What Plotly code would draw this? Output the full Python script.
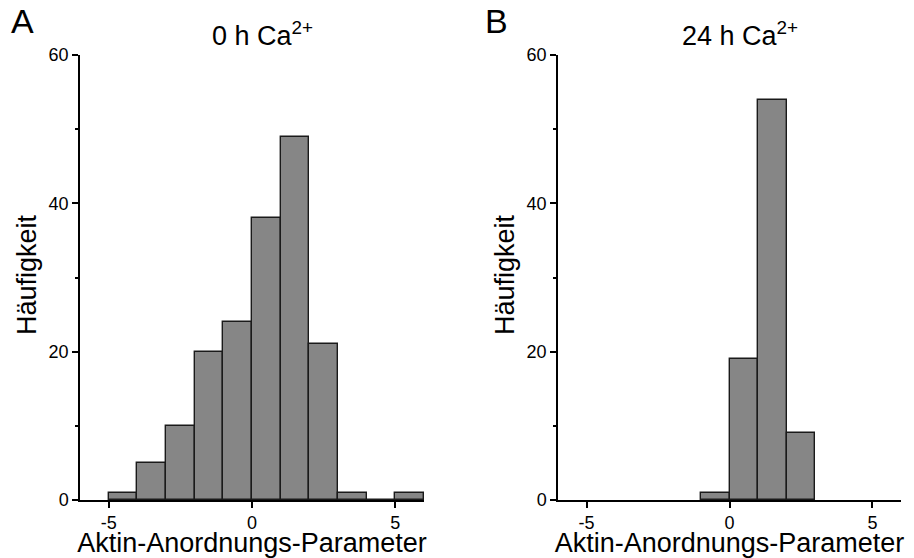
import plotly.graph_objects as go

# Histogram data (bin width 1)
bin_left_a = [-5, -4, -3, -2, -1, 0, 1, 2, 3, 4, 5]
counts_a = [1, 5, 10, 20, 24, 38, 49, 21, 1, 0, 1]

bin_left_b = [-1, 0, 1, 2]
counts_b = [1, 19, 54, 9]

titles = ["0 h Ca<sup>2+</sup>", "24 h Ca<sup>2+</sup>"]
panel_labels = ["A", "B"]
x_title = "Aktin-Anordnungs-Parameter"
y_title = "Häufigkeit"
x_ticks = [-5, 0, 5]
x_ticktext = ["-5", "0", "5"]
y_ticks = [0, 20, 40, 60]

W, H = 914, 558
FONT = "Liberation Sans, Arial, sans-serif"

def px_x(p):
    return p / W

def px_y(p):
    return 1 - p / H

fig = go.Figure()

bar_style = dict(color="#868686", line=dict(color="#1a1a1a", width=1.4))
fig.add_trace(go.Bar(
    x=[b + 0.5 for b in bin_left_a], y=counts_a, width=1,
    marker=bar_style, xaxis="x", yaxis="y", showlegend=False))
fig.add_trace(go.Bar(
    x=[b + 0.5 for b in bin_left_b], y=counts_b, width=1,
    marker=bar_style, xaxis="x2", yaxis="y2", showlegend=False))

xa = dict(range=[-6, 6], tickvals=x_ticks, ticktext=x_ticktext, ticks="outside",
          ticklen=6, tickwidth=1.5,
          tickcolor="black", showline=True, linecolor="black", linewidth=1.5,
          showgrid=False, zeroline=False, automargin=False,
          tickfont=dict(size=18, color="black", family=FONT),
          title=dict(text=x_title, font=dict(size=27, family=FONT, color="black")))
ya = dict(range=[0, 60], tickvals=y_ticks, ticks="outside", ticklen=6, tickwidth=1.5,
          tickcolor="black", showline=True, linecolor="black", linewidth=1.5,
          showgrid=False, zeroline=False, automargin=False,
          tickfont=dict(size=18, color="black", family=FONT),
          minor=dict(tickvals=[10, 30, 50], ticks="outside", ticklen=3, tickwidth=1.5,
                     tickcolor="black", showgrid=False))

y_dom = [px_y(500), px_y(55)]
fig.update_layout(
    template="none",
    width=W, height=H,
    margin=dict(l=0, r=0, t=0, b=0, pad=0),
    paper_bgcolor="white", plot_bgcolor="white",
    bargap=0,
    font=dict(family=FONT, color="black"),
    xaxis=dict(xa, domain=[px_x(80), px_x(424)], anchor="y"),
    yaxis=dict(ya, domain=y_dom, anchor="x"),
    xaxis2=dict(xa, domain=[px_x(558), px_x(901)], anchor="y2"),
    yaxis2=dict(ya, domain=y_dom, anchor="x2"),
)

annotations = []
for i, (x0, x1) in enumerate([(80, 424), (558, 901)]):
    # title
    annotations.append(dict(text=titles[i], x=px_x((x0 + x1) / 2 + 10), y=px_y(15),
                            xref="paper", yref="paper", showarrow=False,
                            xanchor="center", yanchor="top",
                            font=dict(size=27, family=FONT, color="black")))
    # y axis title
    annotations.append(dict(text=y_title, x=px_x(x0 - 53), y=px_y(275),
                            xref="paper", yref="paper", showarrow=False, textangle=-90,
                            xanchor="center", yanchor="middle",
                            font=dict(size=27, family=FONT, color="black")))
    # panel label
    annotations.append(dict(text=panel_labels[i], x=px_x([22, 496][i]), y=1,
                            xref="paper", yref="paper", showarrow=False,
                            xanchor="center", yanchor="top",
                            font=dict(size=34, family=FONT, color="black")))

fig.update_layout(annotations=annotations)

fig.write_html("out.html")
